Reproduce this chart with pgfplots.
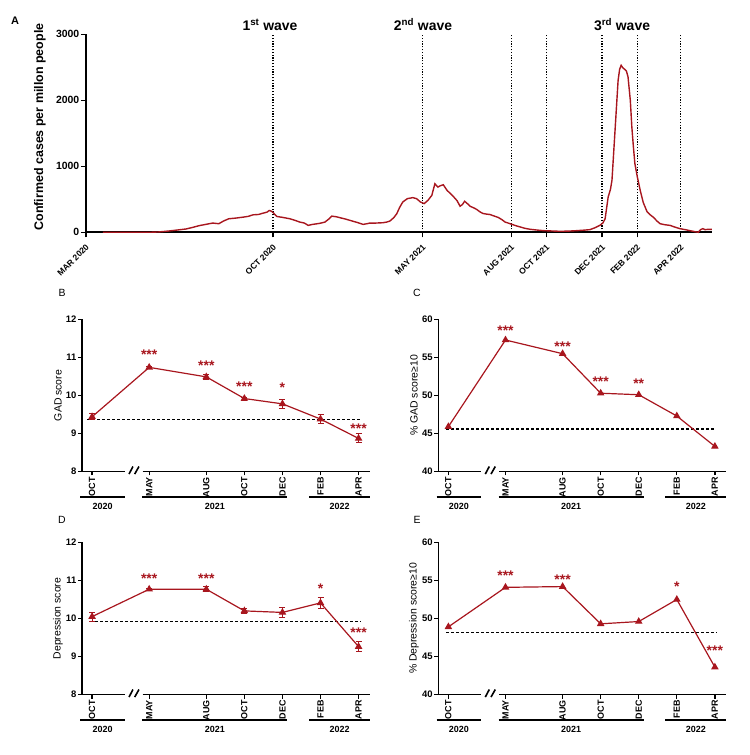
\documentclass[border=0pt]{standalone}
\usepackage{pgfplots}
\pgfplotsset{compat=1.18}
\usepackage{fontspec}
\setmainfont{Liberation Sans}
\definecolor{wavered}{RGB}{168,22,30}

\newcommand\fs[1]{\fontsize{#1}{#1}\selectfont}

\tikzset{
  stars/.style={font=\bfseries\fs{14}, text=wavered, anchor=base, inner sep=0pt},
  waveline/.style={black, line width=1.2bp, dash pattern=on 1.2bp off 1.6bp},
}

\pgfplotsset{
  base/.style={
    scale only axis,
    axis x line=bottom, axis y line=left,
    axis line style={-, line width=1.4bp},
    tick align=outside,
    major tick length=4bp,
    tick style={line width=1.3bp, black},
    /pgf/number format/assume math mode=true,
    /pgf/number format/1000 sep={},
    scaled ticks=false,
    clip=false,
  },
  lowpanel/.style={
    base,
    width=288bp, height=152bp,
    xmin=-0.53, xmax=14.6,
    x axis line style={draw=none},
    xtick={0,3,6,8,10,12,14},
    xticklabels={OCT,MAY,AUG,OCT,DEC,FEB,APR},
    xticklabel style={rotate=90, anchor=east, inner sep=1.5bp, font=\bfseries\fs{9}},
    yticklabel style={inner sep=1.5bp, font=\bfseries\fs{9.5}},
  },
  series/.style={wavered, line width=1.2bp, mark=triangle*, mark size=3.2bp, mark options={solid}},
  errs/.style={error bars/.cd, y dir=both, y explicit,
    error bar style={line width=1bp, wavered},
    error mark options={rotate=90, mark size=3bp, line width=1bp, wavered}},
  refline/.style={black, dash pattern=on 3bp off 2bp, line width=1.2bp},
}

% broken time axis, year brackets and year labels below a lower panel
\newcommand\timeaxis[1]{%
  \draw[line width=1.4bp] (axis cs:-0.53,#1) -- (axis cs:1.73,#1);
  \draw[line width=1.4bp] (axis cs:2.66,#1) -- (axis cs:14.6,#1);
  \draw[line width=1.6bp] ([xshift=-4.6bp,yshift=-2.6bp]axis cs:2.18,#1) -- ([xshift=-0.6bp,yshift=5bp]axis cs:2.18,#1);
  \draw[line width=1.6bp] ([xshift=1.1bp,yshift=-2.6bp]axis cs:2.18,#1) -- ([xshift=5.4bp,yshift=5bp]axis cs:2.18,#1);
  \draw[line width=1.4bp] ([yshift=-25.5bp]axis cs:-0.62,#1) -- ([yshift=-25.5bp]axis cs:1.73,#1);
  \draw[line width=1.4bp] ([yshift=-25.5bp]axis cs:2.64,#1) -- ([yshift=-25.5bp]axis cs:10.25,#1);
  \draw[line width=1.4bp] ([yshift=-25.5bp]axis cs:11.4,#1) -- ([yshift=-25.5bp]axis cs:14.6,#1);
  \node[font=\bfseries\fs{9}, anchor=base] at ([yshift=-37.8bp]axis cs:0.55,#1) {2020};
  \node[font=\bfseries\fs{9}, anchor=base] at ([yshift=-37.8bp]axis cs:6.45,#1) {2021};
  \node[font=\bfseries\fs{9}, anchor=base] at ([yshift=-37.8bp]axis cs:13.0,#1) {2022};
}

% daily confirmed cases per million (day 0 = start of axis)
\pgfplotstableread{
d c
22 0
83 0
95 5
109 20
120 35
131 50
140 75
148 100
157 120
166 140
174 130
180 170
187 205
196 215
206 230
212 240
219 265
226 270
232 290
237 305
240 330
243 320
245 300
250 240
258 225
267 205
274 180
280 155
286 140
291 105
297 120
303 130
308 140
313 155
318 200
322 245
328 235
333 220
340 200
346 180
355 150
363 120
368 130
372 140
380 140
389 145
394 155
398 170
403 220
407 280
411 380
415 460
421 510
428 525
433 510
438 460
443 435
448 485
453 560
457 735
461 685
464 705
468 720
473 635
477 590
481 545
486 480
490 395
493 420
496 470
500 430
503 395
508 370
512 345
516 310
520 285
525 275
529 270
535 245
540 225
545 190
549 155
553 140
558 120
563 100
569 80
575 60
582 45
590 35
599 25
610 20
621 15
632 18
643 25
652 32
660 40
667 70
673 105
677 140
680 205
684 535
687 650
689 790
693 1545
697 2300
699 2470
701 2530
703 2495
706 2465
708 2440
710 2355
713 2000
715 1595
717 1300
719 1040
722 850
726 635
730 450
735 310
739 265
743 230
748 170
752 130
758 115
765 105
771 80
778 55
785 40
795 15
802 0
805 40
808 55
811 40
815 45
820 45
}\cases

\pgfplotstableread{
x y e
0 9.44 0.08
3 10.74 0.03
6 10.49 0.06
8 9.92 0.04
10 9.78 0.12
12 9.38 0.13
14 8.87 0.12
}\gad

\pgfplotstableread{
x y
0 45.9
3 57.3
6 55.5
8 50.3
10 50.1
12 47.3
14 43.3
}\gadpct

\pgfplotstableread{
x y e
0 10.05 0.12
3 10.77 0.03
6 10.77 0.07
8 10.20 0.07
10 10.16 0.13
12 10.41 0.14
14 9.26 0.13
}\dep

\pgfplotstableread{
x y
0 48.9
3 54.1
6 54.2
8 49.3
10 49.6
12 52.5
14 43.6
}\deppct

\begin{document}
\begin{tikzpicture}
\useasboundingbox (0bp,0bp) rectangle (750bp,755bp);

% ---------- A: confirmed cases ----------
\begin{axis}[base, at={(86bp,522.7bp)}, anchor=south west,
  width=626bp, height=198bp,
  xmin=0, xmax=820, ymin=0, ymax=3000,
  axis line style={-, line width=1.8bp},
  major tick length=5bp,
  ytick={0,1000,2000,3000},
  xtick={0,245,441,557,603,676,722,779},
  xticklabels={MAR 2020,OCT 2020,MAY 2021,AUG 2021,OCT 2021,DEC 2021,FEB 2022,APR 2022},
  xticklabel style={yshift=-8bp, xshift=2bp, rotate=45, anchor=east, inner sep=0.5bp, font=\bfseries\fs{8.5}},
  yticklabel style={font=\bfseries\fs{10.5}, inner sep=1.5bp},
]
\foreach \t in {245,441,557,603,676,722,779}{
  \edef\tmp{\noexpand\draw[waveline] (axis cs:\t,0) -- (axis cs:\t,3000);}\tmp
}
\addplot[wavered, line width=1.4bp, no marks] table[x=d, y=c] {\cases};
\end{axis}

\node[font=\bfseries\fs{14}, anchor=base] at (270bp,724bp) {1\textsuperscript{st} wave};
\node[font=\bfseries\fs{14}, anchor=base] at (423bp,724bp) {2\textsuperscript{nd} wave};
\node[font=\bfseries\fs{14}, anchor=base] at (622bp,724bp) {3\textsuperscript{rd} wave};
\node[font=\bfseries\fs{12.5}, rotate=90] at (40bp,628bp) {Confirmed cases per millon people};
\node[font=\bfseries\fs{11}] at (15bp,734bp) {A};

% ---------- B: GAD score ----------
\begin{axis}[lowpanel, at={(82bp,283.5bp)}, anchor=south west,
  ymin=8, ymax=12, ytick={8,9,10,11,12}]
\timeaxis{8}
\addplot[refline] coordinates {(-0.25,9.36) (14.1,9.36)};
\addplot[series, errs] table[x=x, y=y, y error=e] {\gad};
\node[stars] at ([yshift=-8bp]axis cs:3,11.15) {***};
\node[stars] at ([yshift=-8bp]axis cs:6,10.88) {***};
\node[stars] at ([yshift=-8bp]axis cs:8,10.32) {***};
\node[stars] at ([yshift=-8bp]axis cs:10,10.28) {*};
\node[stars] at ([yshift=-8bp]axis cs:14,9.21) {***};
\end{axis}
\node[font=\fs{10.5}, rotate=90] at (58bp,359.5bp) {GAD score};
\node[font=\fs{10.5}] at (62bp,462bp) {B};

% ---------- C: % GAD score >= 10 ----------
\begin{axis}[lowpanel, at={(438.3bp,283.5bp)}, anchor=south west,
  ymin=40, ymax=60, ytick={40,45,50,55,60}]
\timeaxis{40}
\addplot[refline] coordinates {(-0.1,45.6) (14.05,45.6)};
\addplot[series] table[x=x, y=y] {\gadpct};
\node[stars] at ([yshift=-8bp]axis cs:3,58.9) {***};
\node[stars] at ([yshift=-8bp]axis cs:6,56.8) {***};
\node[stars] at ([yshift=-8bp]axis cs:8,52.2) {***};
\node[stars] at ([yshift=-8bp]axis cs:10,52.0) {**};
\end{axis}
\node[font=\fs{10.5}, rotate=90] at (414bp,359.5bp) {\% GAD score≥10};
\node[font=\fs{10.5}] at (417bp,462bp) {C};

% ---------- D: Depression score ----------
\begin{axis}[lowpanel, at={(82bp,60.5bp)}, anchor=south west,
  ymin=8, ymax=12, ytick={8,9,10,11,12}]
\timeaxis{8}
\addplot[refline] coordinates {(-0.1,9.93) (14.1,9.93)};
\addplot[series, errs] table[x=x, y=y, y error=e] {\dep};
\node[stars] at ([yshift=-8bp]axis cs:3,11.12) {***};
\node[stars] at ([yshift=-8bp]axis cs:6,11.12) {***};
\node[stars] at ([yshift=-8bp]axis cs:12,10.88) {*};
\node[stars] at ([yshift=-8bp]axis cs:14,9.71) {***};
\end{axis}
\node[font=\fs{10.5}, rotate=90] at (58bp,136.5bp) {Depression score};
\node[font=\fs{10.5}] at (62bp,235bp) {D};

% ---------- E: % Depression score >= 10 ----------
\begin{axis}[lowpanel, at={(438.3bp,60.5bp)}, anchor=south west,
  ymin=40, ymax=60, ytick={40,45,50,55,60}]
\timeaxis{40}
\addplot[refline] coordinates {(-0.1,48.2) (14.1,48.2)};
\addplot[series] table[x=x, y=y] {\deppct};
\node[stars] at ([yshift=-8bp]axis cs:3,56.05) {***};
\node[stars] at ([yshift=-8bp]axis cs:6,55.5) {***};
\node[stars] at ([yshift=-8bp]axis cs:12,54.6) {*};
\node[stars] at ([yshift=-8bp]axis cs:14,46.2) {***};
\end{axis}
\node[font=\fs{10.5}, rotate=90] at (414bp,136.5bp) {\% Depression score≥10};
\node[font=\fs{10.5}] at (417bp,235bp) {E};
\end{tikzpicture}
\end{document}
